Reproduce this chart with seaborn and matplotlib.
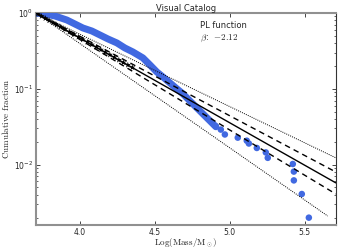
import numpy as np
import pandas as pd
import seaborn as sns
import matplotlib
matplotlib.use("Agg")
import matplotlib.pyplot as plt

# cumulative distribution of the catalogue (dense part)
mass_dense = [3.707, 3.767, 3.833, 3.913, 3.967, 4.02, 4.08, 4.133, 4.187, 4.247,
              4.30, 4.353, 4.42, 4.467, 4.513, 4.553, 4.60, 4.647, 4.687, 4.733,
              4.78, 4.82, 4.867, 4.907]
frac_dense = [1.0, 0.97, 0.914, 0.809, 0.716, 0.635, 0.579, 0.514, 0.455, 0.403,
              0.346, 0.307, 0.256, 0.207, 0.167, 0.144, 0.120, 0.100, 0.086, 0.0695,
              0.0562, 0.0469, 0.0379, 0.0316]

# high-mass tail, individual clusters
mass_tail = [4.907, 4.94, 4.967, 5.053, 5.113, 5.127, 5.18, 5.24, 5.253, 5.42,
             5.427, 5.427, 5.48, 5.527]
frac_tail = [0.032, 0.029, 0.025, 0.0227, 0.0207, 0.019, 0.0166, 0.0145, 0.0123,
             0.0102, 0.0081, 0.0062, 0.0041, 0.0020]

# fitted sample (stars)
mass_fit = [3.72, 3.745, 3.77, 3.795, 3.82, 3.845, 3.87, 3.90, 3.93, 3.96, 3.99,
            4.02, 4.05, 4.08, 4.11, 4.14, 4.17, 4.20, 4.23, 4.26, 4.29, 4.32, 4.35]
frac_fit = [0.967, 0.906, 0.850, 0.797, 0.747, 0.700, 0.657, 0.608, 0.562, 0.521,
            0.482, 0.446, 0.413, 0.382, 0.354, 0.327, 0.303, 0.281, 0.260, 0.240,
            0.222, 0.206, 0.191]

# power-law fit and its uncertainty envelopes (end points)
line_x = [3.707, 5.707]
pl_best = [1.0, 0.00575]
pl_dash_hi = [1.0, 0.0080]
pl_dash_lo = [1.0, 0.0041]
pl_dot_hi_x = [3.707, 5.707]
pl_dot_hi = [1.0, 0.0123]
pl_dot_lo_x = [3.707, 5.653]
pl_dot_lo = [1.0, 0.0021]

sns.set_theme(style="ticks")
plt.rcParams["mathtext.fontset"] = "cm"
plt.rcParams["font.family"] = "DejaVu Sans"

fig = plt.figure(figsize=(3.42, 2.5), dpi=100)
ax = fig.add_axes([0.105, 0.10, 0.877, 0.848])

blue = "#4169e1"
sns.lineplot(x=mass_dense, y=frac_dense, ax=ax, color=blue, lw=5.0,
             solid_capstyle="round", solid_joinstyle="round", zorder=3)
sns.scatterplot(x=mass_tail, y=frac_tail, ax=ax, color=blue, s=22,
                edgecolor="none", zorder=3)

sns.lineplot(x=line_x, y=pl_best, ax=ax, color="black", lw=1.0, zorder=4)
sns.lineplot(x=line_x, y=pl_dash_hi, ax=ax, color="black", lw=1.0,
             linestyle=(0, (4, 3)), zorder=4)
sns.lineplot(x=line_x, y=pl_dash_lo, ax=ax, color="black", lw=1.0,
             linestyle=(0, (4, 3)), zorder=4)
sns.lineplot(x=pl_dot_hi_x, y=pl_dot_hi, ax=ax, color="black", lw=0.7,
             linestyle=(0, (1, 1.2)), zorder=4)
sns.lineplot(x=pl_dot_lo_x, y=pl_dot_lo, ax=ax, color="black", lw=0.7,
             linestyle=(0, (1, 1.2)), zorder=4)
sns.scatterplot(x=mass_fit, y=frac_fit, ax=ax, color="black", marker="*",
                s=22, edgecolor="none", zorder=5)

ax.set_yscale("log")
ax.set_xlim(3.707, 5.707)
ax.set_ylim(0.0016, 1.0)
ax.set_xticks([4.0, 4.5, 5.0, 5.5])

ax.tick_params(axis="both", which="both", direction="in", top=True, right=True,
               labelsize=5.5, pad=2)
ax.tick_params(which="major", length=3, width=0.6)
ax.tick_params(which="minor", length=1.5, width=0.5)

for side in ["left", "bottom", "top"]:
    ax.spines[side].set_color("#909090")
    ax.spines[side].set_linewidth(1.5)
ax.spines["right"].set_color("#333333")
ax.spines["right"].set_linewidth(0.8)

ax.set_title("Visual Catalog", fontsize=6, pad=1.5)
ax.set_xlabel(r"$\rm Log(Mass/M_\odot)$", fontsize=6.5, labelpad=0)
ax.set_ylabel(r"$\rm Cumulative\ fraction$", fontsize=6.5, labelpad=2)

ax.text(0.547, 0.94, "PL function", transform=ax.transAxes, fontsize=6,
        va="center", ha="left")
ax.text(0.547, 0.88, r"$\beta$:  $-2.12$", transform=ax.transAxes, fontsize=6.5,
        va="center", ha="left")

fig.savefig("out.png", dpi=100)
